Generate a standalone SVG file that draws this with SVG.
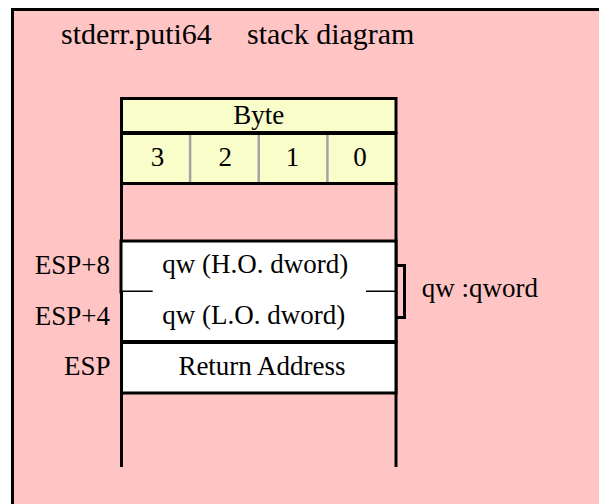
<svg xmlns="http://www.w3.org/2000/svg" width="599" height="504" viewBox="0 0 599 504">
<style>
text{font-family:"Liberation Serif","Times New Roman",serif;font-size:27px;fill:#000}
.t{font-size:30px}
.c{text-anchor:middle}
.e{text-anchor:end}
.ln{stroke:#000;stroke-width:3;fill:none}
.yel{fill:#F8FDC9;stroke:#000;stroke-width:3}
.wh{fill:#fff;stroke:none}
.div{stroke:#A3A3A3;stroke-width:2.5}
</style>
<rect width="599" height="504" fill="#fff"/>
<g id="frame">
<rect x="12.5" y="9.5" width="620" height="520" fill="#FFC4C4" stroke="#000" stroke-width="3"/>
<text class="t" x="61" y="44.3">stderr.puti64</text>
<text class="t" x="247" y="44.3">stack diagram</text>
</g>
<g id="stack">
<line class="ln" x1="121.5" y1="183" x2="121.5" y2="467"/>
<line class="ln" x1="396" y1="183" x2="396" y2="467"/>
</g>
<g id="byte-header">
<rect class="yel" x="121.5" y="98.5" width="274.5" height="34"/>
<text class="c" x="258.75" y="124.3">Byte</text>
</g>
<g id="byte-numbers">
<rect class="yel" x="121.5" y="133.5" width="274.5" height="50"/>
<line class="div" x1="190.1" y1="135" x2="190.1" y2="182"/>
<line class="div" x1="258.75" y1="135" x2="258.75" y2="182"/>
<line class="div" x1="327.4" y1="135" x2="327.4" y2="182"/>
<text class="c" x="157.5" y="166">3</text>
<text class="c" x="225.3" y="166">2</text>
<text class="c" x="292.5" y="166">1</text>
<text class="c" x="360" y="166">0</text>
</g>
<g id="qw-ho">
<rect class="wh" x="121.5" y="241" width="274.5" height="51"/>
<path class="ln" d="M152.7,292 H121 V241 H396 V292 H366"/>
<text x="162.3" y="273">qw (H.O. dword)</text>
<text class="e" x="110" y="274">ESP+8</text>
</g>
<g id="qw-lo">
<rect class="wh" x="121.5" y="292" width="274.5" height="49.5"/>
<path class="ln" d="M121.5,292 V341.5 H396 V292"/>
<text x="162.3" y="324">qw (L.O. dword)</text>
<text class="e" x="110" y="325">ESP+4</text>
</g>
<g id="return-address">
<rect class="wh" x="121.5" y="342.5" width="274.5" height="50.5"/>
<path class="ln" d="M121.5,342.5 H396 V393 H121.5 Z"/>
<text class="c" x="262" y="375">Return Address</text>
<text class="e" x="110.5" y="375">ESP</text>
</g>
<g id="connectors">
<path class="ln" d="M396,265.5 H404.5 V317.5 H396"/>
</g>
<g id="qw-label">
<text x="421.7" y="296.7">qw :qword</text>
</g>
</svg>
